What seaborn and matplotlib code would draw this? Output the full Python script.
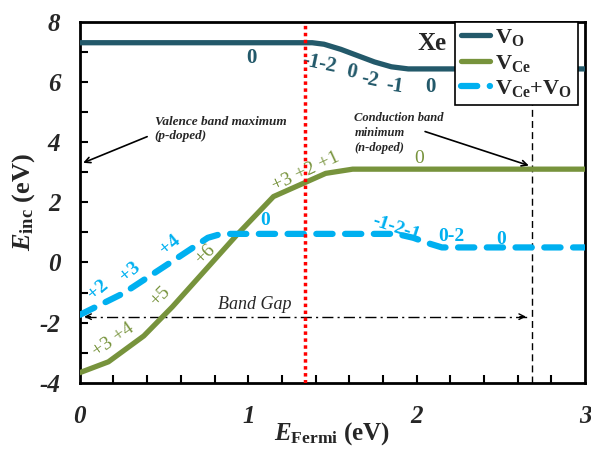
import numpy as np
import pandas as pd
import seaborn as sns
import matplotlib.pyplot as plt
from matplotlib.ticker import MultipleLocator

# Data
vo_x = [0.0, 1.38, 1.45, 1.55, 1.65, 1.75, 1.85, 1.95, 3.0]
vo_y = [7.30, 7.30, 7.25, 7.08, 6.87, 6.66, 6.50, 6.43, 6.43]

vce_x = [0.0, 0.17, 0.38, 0.55, 0.93, 1.15, 1.46, 1.62, 3.0]
vce_y = [-3.66, -3.30, -2.44, -1.47, 0.90, 2.19, 2.96, 3.10, 3.10]

vcevo_x = [0.0, 0.26, 0.59, 0.76, 0.84, 1.88, 1.98, 2.08, 2.15, 3.0]
vcevo_y = [-1.74, -1.02, 0.19, 0.82, 0.95, 0.95, 0.82, 0.62, 0.50, 0.50]

fermi_level = 1.34
cbm = 2.686
band_gap_y = -1.80

# charge state labels: (text, x, y, rotation)
vo_labels = [('0', 1.02, 6.80, 0), ('-1-2', 1.42, 6.60, -12), ('0', 1.61, 6.32, -12),
             ('-2', 1.72, 6.06, -12), ('-1', 1.87, 5.84, -8), ('0', 2.08, 5.84, 0)]
vce_labels = [('+3 +4', 0.20, -2.57, 35), ('+5', 0.475, -1.14, 45), ('+6', 0.745, 0.25, 45),
              ('+3 +2 +1', 1.34, 3.02, 25), ('0', 2.015, 3.44, 0)]
vcevo_labels = [('+2', 0.11, -0.91, 40), ('+3', 0.30, -0.31, 40), ('+4', 0.535, 0.58, 40),
                ('0', 1.10, 1.41, 0), ('-1-2-1', 1.88, 1.14, -18), ('0-2', 2.205, 0.86, 0),
                ('0', 2.50, 0.75, 0)]

c_vo = '#23596a'
c_vce = '#77933c'
c_vcevo = '#00b0f0'

sns.set_style('ticks')
plt.rcParams['font.family'] = ['Liberation Serif', 'DejaVu Serif']
plt.rcParams['mathtext.fontset'] = 'custom'
plt.rcParams['mathtext.rm'] = 'Liberation Serif:bold'
plt.rcParams['mathtext.it'] = 'Liberation Serif:italic:bold'
plt.rcParams['mathtext.bf'] = 'Liberation Serif:bold'
plt.rcParams['axes.unicode_minus'] = False

df_vo = pd.DataFrame({'x': vo_x, 'y': vo_y})
df_vce = pd.DataFrame({'x': vce_x, 'y': vce_y})
df_vcevo = pd.DataFrame({'x': vcevo_x, 'y': vcevo_y})

fig = plt.figure(figsize=(5.91, 4.51), dpi=100)
ax = fig.add_axes([0.135, 0.151, 0.855, 0.801])

ax.axvline(cbm, color='black', lw=1, ls=(0, (5, 3)), zorder=1)
ax.axvline(fermi_level, color='red', lw=2.5, ls=(0, (1, 1)), zorder=5)

sns.lineplot(data=df_vo, x='x', y='y', ax=ax, color=c_vo, lw=3.8, sort=False,
             label=r'$\mathrm{V_{O}}$', zorder=3)
sns.lineplot(data=df_vce, x='x', y='y', ax=ax, color=c_vce, lw=3.8, sort=False,
             label=r'$\mathrm{V_{Ce}}$', zorder=3)
sns.lineplot(data=df_vcevo, x='x', y='y', ax=ax, color=c_vcevo, lw=4.5, sort=False,
             label=r'$\mathrm{V_{Ce}{+}V_{O}}$', zorder=3)
ax.lines[-1].set_dashes((2.6, 2.0))
ax.lines[-1].set_dash_capstyle('round')

for txt, x, y, r in vo_labels:
    ax.text(x, y, txt, color=c_vo, fontsize=15, fontweight='bold', rotation=r,
            ha='center', va='center')
for txt, x, y, r in vce_labels:
    ax.text(x, y, txt, color=c_vce, fontsize=14, rotation=r, ha='center', va='center')
for txt, x, y, r in vcevo_labels:
    ax.text(x, y, txt, color=c_vcevo, fontsize=14, fontweight='bold', rotation=r,
            ha='center', va='center')

# band gap arrow
ax.plot([0.03, cbm - 0.03], [band_gap_y, band_gap_y], color='black', lw=1,
        ls=(0, (8, 3, 1.5, 3)))
ax.annotate('', xy=(0.01, band_gap_y), xytext=(0.08, band_gap_y),
            arrowprops=dict(arrowstyle='->', color='black', lw=1))
ax.annotate('', xy=(cbm - 0.02, band_gap_y), xytext=(cbm - 0.09, band_gap_y),
            arrowprops=dict(arrowstyle='->', color='black', lw=1))
ax.text(1.04, -1.38, 'Band Gap', fontsize=13, style='italic', ha='center', va='center')

# band edge notes
ax.text(0.445, 4.88, 'Valence band maximum\n(p-doped)', fontsize=9.5, fontweight='bold',
        style='italic', ha='left', va='top', linespacing=1.3)
ax.annotate('', xy=(0.02, 3.31), xytext=(0.40, 4.18),
            arrowprops=dict(arrowstyle='->', color='black', lw=1.2, shrinkA=0, shrinkB=0))
ax.text(1.63, 5.0, 'Conduction band\nminimum\n(n-doped)', fontsize=9, fontweight='bold',
        style='italic', ha='left', va='top', linespacing=1.35)
ax.annotate('', xy=(cbm - 0.02, 3.22), xytext=(2.05, 4.35),
            arrowprops=dict(arrowstyle='->', color='black', lw=1.2, shrinkA=0, shrinkB=0))

ax.text(2.09, 7.29, 'Xe', fontsize=18, fontweight='bold', ha='center', va='center')

ax.set_xlim(0, 3)
ax.set_ylim(-4, 8)
ax.xaxis.set_major_locator(MultipleLocator(1))
ax.xaxis.set_minor_locator(MultipleLocator(0.2))
ax.yaxis.set_major_locator(MultipleLocator(2))
ax.yaxis.set_minor_locator(MultipleLocator(1))
ax.tick_params(which='both', length=0, bottom=True, left=True, top=False, right=False)
ax.tick_params(axis='x', which='major', pad=16)
ax.tick_params(axis='y', which='major', pad=14)
for lab in ax.get_xticklabels() + ax.get_yticklabels():
    lab.set_fontsize(18)
    lab.set_fontweight('bold')
    lab.set_fontstyle('italic')

# inward tick marks drawn as short segments at the locator positions
xt = [v for v in np.union1d(ax.xaxis.get_majorticklocs(), ax.xaxis.get_minorticklocs())
      if 0 < v < 3]
yt = [v for v in np.union1d(ax.yaxis.get_majorticklocs(), ax.yaxis.get_minorticklocs())
      if -4 < v < 8]
ax.vlines(xt, 0, 0.022, transform=ax.get_xaxis_transform(), color='black', lw=1.5,
          zorder=6, clip_on=False)
ax.hlines(yt, 0, 0.016, transform=ax.get_yaxis_transform(), color='black', lw=1.5,
          zorder=6, clip_on=False)

for s in ax.spines.values():
    s.set_visible(True)
    s.set_linewidth(2)
    s.set_color('black')

ax.set_xlabel(r'$E_{\mathrm{Fermi}}$ (eV)', fontsize=18, fontweight='bold', labelpad=-6)
ax.set_ylabel(r'$E_{\mathrm{inc}}$ (eV)', fontsize=19, fontweight='bold', labelpad=2)

leg = ax.legend(loc='upper right', bbox_to_anchor=(0.986, 1.0), borderaxespad=0,
                fontsize=16, frameon=True, fancybox=False, framealpha=1,
                handlelength=1.3, handletextpad=0.25, labelspacing=0.2,
                borderpad=0.25)
leg.get_frame().set_edgecolor('black')
leg.get_frame().set_linewidth(1.2)
leg.set_zorder(10)

fig.savefig('out.png', dpi=100)
